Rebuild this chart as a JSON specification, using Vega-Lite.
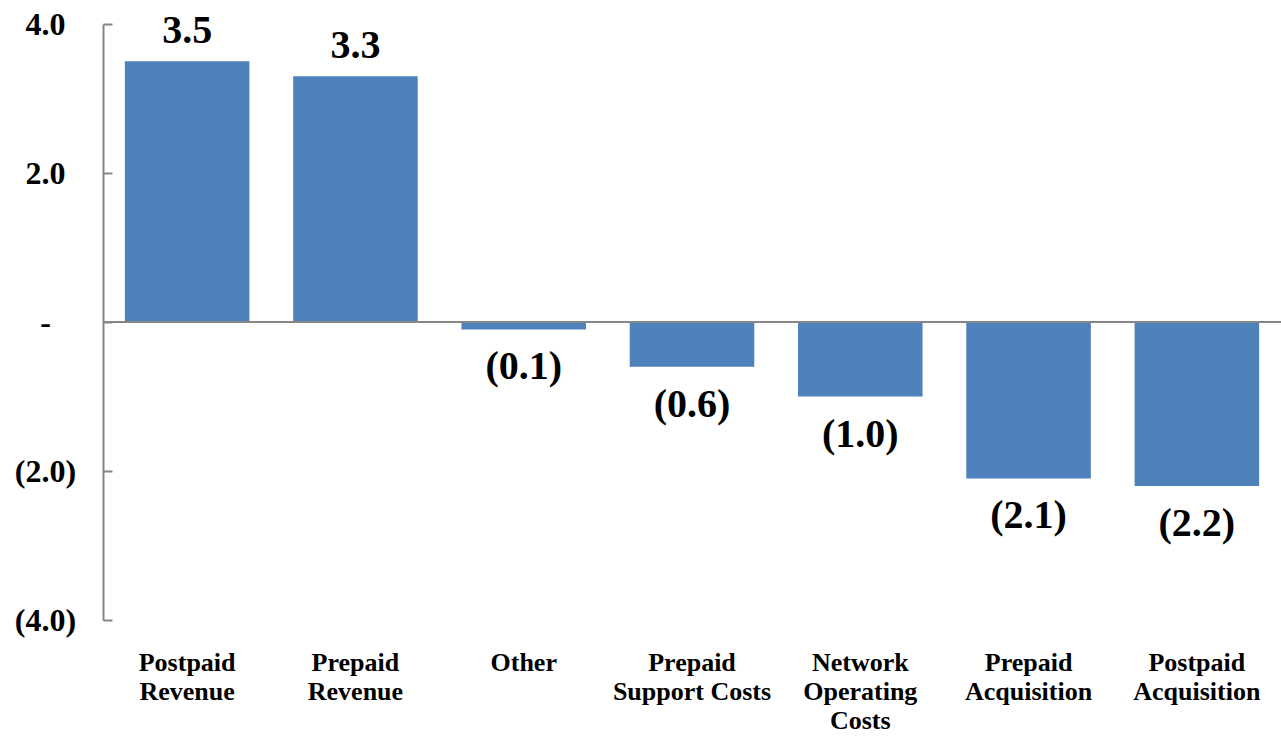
{
  "$schema": "https://vega.github.io/schema/vega-lite/v6.json",
  "autosize": {"type": "none"},
  "width": 1178,
  "height": 596,
  "padding": {"left": 103, "top": 24, "right": 0, "bottom": 118},
  "background": "white",
  "config": {
    "view": {"stroke": null},
    "font": "Liberation Serif"
  },
  "data": {
    "values": [
      {"category": "Postpaid\nRevenue", "value": 3.5},
      {"category": "Prepaid\nRevenue", "value": 3.3},
      {"category": "Other", "value": -0.1},
      {"category": "Prepaid\nSupport Costs", "value": -0.6},
      {"category": "Network\nOperating\nCosts", "value": -1.0},
      {"category": "Prepaid\nAcquisition", "value": -2.1},
      {"category": "Postpaid\nAcquisition", "value": -2.2}
    ]
  },
  "transform": [
    {"calculate": "datum.value < 0 ? '(' + format(-datum.value, '.1f') + ')' : format(datum.value, '.1f')", "as": "label"}
  ],
  "encoding": {
    "x": {
      "field": "category",
      "type": "nominal",
      "sort": null,
      "scale": {"paddingInner": 0.26, "paddingOuter": 0.13},
      "axis": {
        "title": null,
        "orient": "bottom",
        "domain": false,
        "ticks": false,
        "labelAngle": 0,
        "labelPadding": 29,
        "labelFont": "Liberation Serif",
        "labelFontWeight": "bold",
        "labelFontSize": 26,
        "labelColor": "black",
        "labelLineHeight": 29,
        "labelBaseline": "top",
        "labelExpr": "split(datum.value, '\\n')"
      }
    }
  },
  "layer": [
    {
      "mark": {"type": "bar", "color": "#4F81BD"},
      "encoding": {
        "y": {
          "field": "value",
          "type": "quantitative",
          "scale": {"domain": [-4, 4], "nice": false, "zero": true},
          "axis": {
            "title": null,
            "values": [-4, -2, 0, 2, 4],
            "grid": false,
            "domainColor": "#868686",
            "domainWidth": 2,
            "tickColor": "#868686",
            "tickWidth": 2,
            "tickSize": -9,
            "labelPadding": 67,
            "labelAlign": "center",
            "labelFont": "Liberation Serif",
            "labelFontWeight": "bold",
            "labelFontSize": 32,
            "labelColor": "black",
            "labelExpr": "datum.value == 0 ? '-' : datum.value < 0 ? '(' + format(-datum.value, '.1f') + ')' : format(datum.value, '.1f')"
          }
        }
      }
    },
    {
      "mark": {"type": "rule", "color": "#868686", "strokeWidth": 2},
      "data": {"values": [{"zero": 0}]},
      "encoding": {
        "y": {"field": "zero", "type": "quantitative"},
        "x": null
      }
    },
    {
      "transform": [{"filter": "datum.value >= 0"}],
      "mark": {"type": "text", "font": "Liberation Serif", "fontWeight": "bold", "fontSize": 40, "baseline": "middle", "dy": -30, "color": "black"},
      "encoding": {
        "y": {"field": "value", "type": "quantitative"},
        "text": {"field": "label"}
      }
    },
    {
      "transform": [{"filter": "datum.value < 0"}],
      "mark": {"type": "text", "font": "Liberation Serif", "fontWeight": "bold", "fontSize": 40, "baseline": "middle", "dy": 38, "color": "black"},
      "encoding": {
        "y": {"field": "value", "type": "quantitative"},
        "text": {"field": "label"}
      }
    }
  ]
}
